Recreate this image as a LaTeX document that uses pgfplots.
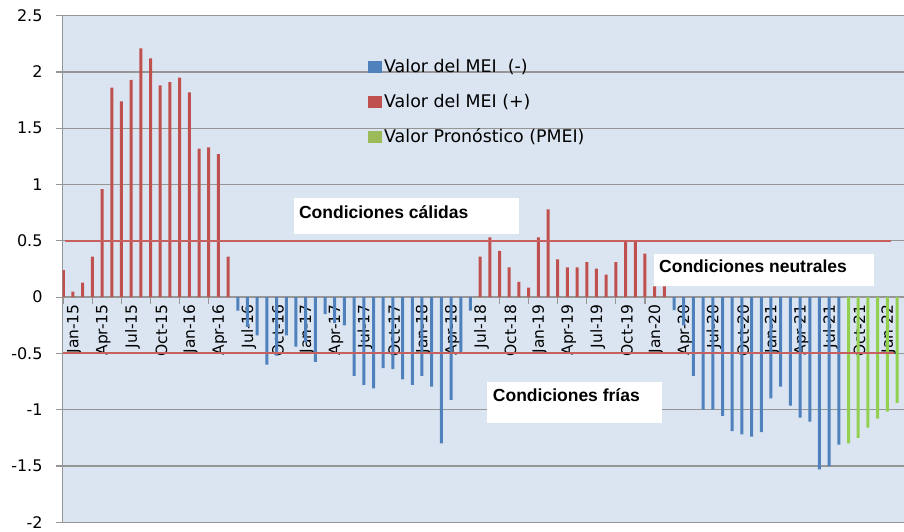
\documentclass[border=0pt]{standalone}
\usepackage{pgfplots}
\pgfplotsset{compat=1.18}
\usepackage{fontspec}
\setmainfont{DejaVu Sans}
\newfontfamily\arialf{Liberation Sans}
\definecolor{bgc}{HTML}{DBE5F1}
\definecolor{mblue}{HTML}{4F81BD}
\definecolor{mred}{HTML}{C0504D}
\definecolor{mgreen}{HTML}{92D050}
\definecolor{lgreen}{HTML}{9BBB59}
\definecolor{gridc}{HTML}{969696}
\begin{document}
\begin{tikzpicture}
\path[use as bounding box] (0,0) rectangle (904pt,532pt);
\begin{axis}[
  at={(62.7pt,9.7pt)}, anchor=south west,
  scale only axis, width=853.7pt, height=506.6pt,
  xmin=-0.06, xmax=88, ymin=-2, ymax=2.5,
  axis x line=middle, axis y line=left,
  every inner x axis line/.append style={-},
  every outer y axis line/.append style={-},
  axis line style={draw=gridc, line width=1.5pt},
  axis background/.style={fill=bgc},
  ymajorgrids, grid style={gridc, line width=1.2pt},
  hide obscured x ticks=false, hide obscured y ticks=false,
  ytick={-2,-1.5,-1,-0.5,0,0.5,1,1.5,2,2.5},
  yticklabels={-2,-1.5,-1,-0.5,0,0.5,1,1.5,2,2.5},
  xtick={0,3,...,87},
  xticklabels={Jan-15,Apr-15,Jul-15,Oct-15,Jan-16,Apr-16,Jul-16,Oct-16,Jan-17,Apr-17,Jul-17,Oct-17,Jan-18,Apr-18,Jul-18,Oct-18,Jan-19,Apr-19,Jul-19,Oct-19,Jan-20,Apr-20,Jul-20,Oct-20,Jan-21,Apr-21,Jul-21,Oct-21,Jan-22,Apr-22},
  tick align=outside,
  major tick length=7pt,
  tick style={gridc, line width=1.2pt},
  yticklabel style={font=\fontsize{16}{19}\selectfont, inner sep=0pt, anchor=east, xshift=-13pt},
  xticklabel style={font=\fontsize{15.5}{18}\selectfont, rotate=90, anchor=east, inner sep=0pt, yshift=-11pt},
  legend style={at={(axis cs:31.43,2.13)}, anchor=north west, draw=none, fill=none,
    font=\fontsize{17.4}{20}\selectfont, row sep=16pt, inner sep=0pt},
  legend cell align=left,
  legend image code/.code={\fill[#1] (0pt,-6pt) rectangle (14pt,6pt);},
]
\addlegendimage{fill=mblue, draw=none}
\addlegendentry{Valor del MEI\ \ (-)}
\addlegendimage{fill=mred, draw=none}
\addlegendentry{Valor del MEI (+)}
\addlegendimage{fill=lgreen, draw=none}
\addlegendentry{Valor Pronóstico (PMEI)}

\addplot[ybar, bar width=3pt, bar shift=0pt, fill=mred, draw=none, forget plot] coordinates {
(0,0.24) (1,0.05) (2,0.13) (3,0.36) (4,0.96) (5,1.86) (6,1.74) (7,1.93) (8,2.21) (9,2.12)
(10,1.88) (11,1.91) (12,1.95) (13,1.82) (14,1.32) (15,1.33) (16,1.27) (17,0.36)
(43,0.36) (44,0.53) (45,0.41) (46,0.265) (47,0.135) (48,0.085) (49,0.53) (50,0.78)
(51,0.335) (52,0.265) (53,0.265) (54,0.31) (55,0.253) (56,0.20) (57,0.31) (58,0.50)
(59,0.50) (60,0.386) (61,0.096) (62,0.096)};
\addplot[ybar, bar width=3pt, bar shift=0pt, fill=mblue, draw=none, forget plot] coordinates {
(18,-0.12) (19,-0.265) (20,-0.34) (21,-0.60) (22,-0.52) (23,-0.34) (24,-0.44) (25,-0.40)
(26,-0.575) (27,-0.15) (28,-0.23) (29,-0.25) (30,-0.70) (31,-0.78) (32,-0.81) (33,-0.63)
(34,-0.64) (35,-0.73) (36,-0.78) (37,-0.70) (38,-0.795) (39,-1.30) (40,-0.913) (41,-0.50)
(42,-0.12)
(63,-0.115) (64,-0.25) (65,-0.70) (66,-1.00) (67,-1.00) (68,-1.055) (69,-1.19) (70,-1.22)
(71,-1.24) (72,-1.20) (73,-0.90) (74,-0.795) (75,-0.963) (76,-1.07) (77,-1.105) (78,-1.53)
(79,-1.50) (80,-1.31)};
\addplot[ybar, bar width=3pt, bar shift=0pt, fill=mgreen, draw=none, forget plot] coordinates {
(81,-1.30) (82,-1.25) (83,-1.16) (84,-1.08) (85,-1.017) (86,-0.94)};

\addplot[mred!90!white, line width=2pt, forget plot] coordinates {(0.2,0.5) (85.4,0.5)};
\addplot[mred!90!white, line width=2pt, forget plot] coordinates {(0,-0.5) (85.7,-0.5)};

\fill[white] (axis cs:23.8,0.881) rectangle (axis cs:47.0,0.561);
\node[anchor=base west, inner sep=0pt, font=\arialf\bfseries\fontsize{17.5}{20}\selectfont] at (axis cs:24.3,0.70) {Condiciones cálidas};
\fill[white] (axis cs:60.96,0.384) rectangle (axis cs:83.65,0.099);
\node[anchor=base west, inner sep=0pt, font=\arialf\bfseries\fontsize{17.5}{20}\selectfont] at (axis cs:61.45,0.221) {Condiciones neutrales};
\fill[white] (axis cs:43.67,-0.756) rectangle (axis cs:61.78,-1.12);
\node[anchor=base west, inner sep=0pt, font=\arialf\bfseries\fontsize{17.5}{20}\selectfont] at (axis cs:44.3,-0.928) {Condiciones frías};
\end{axis}
\end{tikzpicture}
\end{document}
